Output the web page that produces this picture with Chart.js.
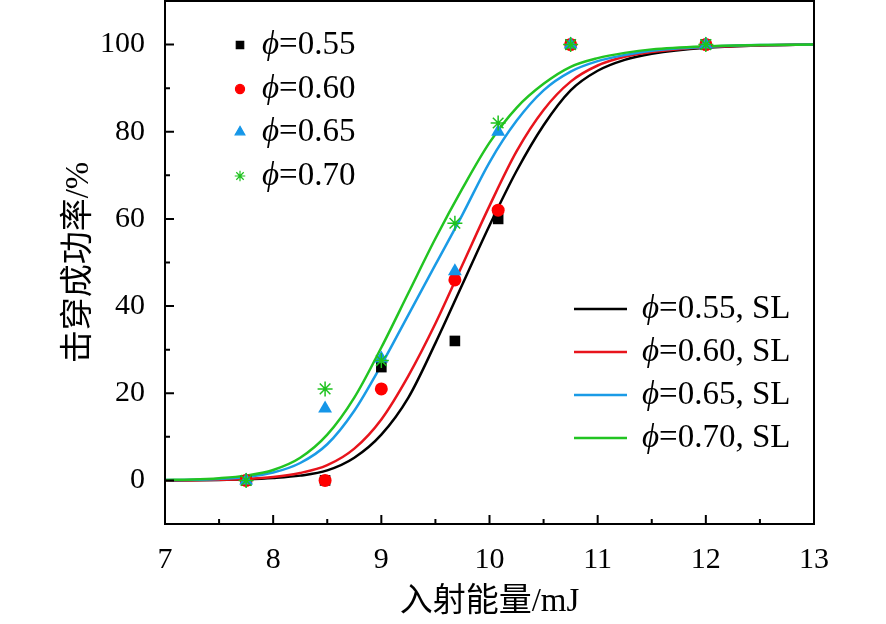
<!DOCTYPE html>
<html lang="zh">
<head>
<meta charset="utf-8">
<title>击穿成功率</title>
<script src="https://cdn.jsdelivr.net/npm/chart.js"></script>
<style>
  html, body { margin: 0; padding: 0; background: #fff; }
  #wrap { width: 886px; height: 624px; }
</style>
</head>
<body>
<div id="wrap"><canvas id="chart"></canvas></div>
<script>
// measured points
const energy = [7.75, 8.48, 9.0, 9.68, 10.08, 10.75, 12.0];
const rate055 = [0, 0, 26, 32, 60, 100, 100];
const rate060 = [0, 0, 21, 46, 62, 100, 100];
const rate065 = [0, 16.5, 28, 48, 80, 100, 100];
const rate070 = [0, 21, 27.5, 59, 82, 100, 100];

// SL curves
const fitX   = [7, 7.25, 7.5, 7.75, 8, 8.25, 8.5, 8.75, 9, 9.25, 9.5, 9.75, 10, 10.25, 10.5, 10.75, 11, 11.25, 11.5, 12, 12.5, 13];
const fit055 = [0, 0.03, 0.1, 0.25, 0.55, 1.1, 2.3, 5.2, 10.5, 19, 31.5, 45, 58.5, 71, 81.5, 89.5, 94, 96.5, 97.9, 99.3, 99.8, 100];
const fit060 = [0, 0.05, 0.15, 0.35, 0.8, 1.7, 3.5, 7.3, 14, 24, 36, 49.5, 63, 75.5, 85, 91.5, 95.2, 97.2, 98.3, 99.4, 99.8, 100];
const fit065 = [0.1, 0.15, 0.35, 0.8, 1.8, 4, 8.3, 16, 26.5, 38, 49.5, 61, 73, 82.5, 89.5, 93.8, 96.2, 97.6, 98.6, 99.5, 99.9, 100];
const fit070 = [0.1, 0.2, 0.5, 1.1, 2.4, 5.2, 10.5, 19, 30.5, 43, 55.5, 67, 77.5, 85.5, 91, 94.9, 96.9, 98.1, 98.9, 99.6, 99.9, 100];

const xTicks = [7, 8, 9, 10, 11, 12, 13];
const yTicks = [0, 20, 40, 60, 80, 100];
const xMinor = [7.5, 8.5, 9.5, 10.5, 11.5, 12.5];
const yMinor = [10, 30, 50, 70, 90];

const labels = ['0.55', '0.60', '0.65', '0.70'];
const colors = ['#000000', '#ff0000', '#1596e8', '#1ec21e'];
const lineColors = ['#000000', '#e8141c', '#1a9be6', '#22c422'];
const styles = ['rect', 'circle', 'triangle', 'star'];
const radii = [7.5, 6.5, 8, 7.5];

const serif = "'Liberation Serif', 'Times New Roman', serif";
const cjk = "'Liberation Serif', 'Noto Sans CJK SC', serif";

const pts = (xs, ys) => xs.map((x, i) => ({ x: x, y: ys[i] }));

const rates = [rate055, rate060, rate065, rate070];
const fits = [fit055, fit060, fit065, fit070];

// lower order is drawn on top: later series sit over earlier ones
const datasets = [];
fits.forEach((f, i) => {
    datasets.push({
        type: 'line',
        label: 'ϕ=' + labels[i] + ', SL',
        data: pts(fitX, f),
        borderColor: lineColors[i],
        borderWidth: 2.5,
        pointRadius: 0,
        cubicInterpolationMode: 'monotone',
        fill: false,
        order: 10 - i
    });
});
rates.forEach((r, i) => {
    datasets.push({
        type: 'scatter',
        label: 'ϕ=' + labels[i],
        data: pts(energy, r),
        pointStyle: styles[i],
        pointRadius: radii[i],
        pointBackgroundColor: colors[i],
        pointBorderColor: colors[i],
        pointBorderWidth: styles[i] === 'star' ? 1.5 : 0,
        order: 4 - i
    });
});

// frame, inward ticks and both legends
const decor = {
    id: 'decor',
    afterDraw(chart) {
        const ctx = chart.ctx;
        const a = chart.chartArea;
        const xs = chart.scales.x, ys = chart.scales.y;
        ctx.save();
        ctx.strokeStyle = '#000';
        ctx.lineWidth = 2;
        ctx.strokeRect(a.left, a.top, a.right - a.left, a.bottom - a.top);

        ctx.beginPath();
        xTicks.forEach(v => { const p = xs.getPixelForValue(v); ctx.moveTo(p, a.bottom); ctx.lineTo(p, a.bottom - 9); });
        xMinor.forEach(v => { const p = xs.getPixelForValue(v); ctx.moveTo(p, a.bottom); ctx.lineTo(p, a.bottom - 5); });
        yTicks.forEach(v => { const p = ys.getPixelForValue(v); ctx.moveTo(a.left, p); ctx.lineTo(a.left + 9, p); });
        yMinor.forEach(v => { const p = ys.getPixelForValue(v); ctx.moveTo(a.left, p); ctx.lineTo(a.left + 5, p); });
        ctx.stroke();

        const label = (txt, x, y) => {
            ctx.fillStyle = '#000';
            ctx.textBaseline = 'middle';
            ctx.textAlign = 'left';
            ctx.font = 'italic 33px ' + serif;
            ctx.fillText('ϕ', x, y);
            const w = ctx.measureText('ϕ').width;
            ctx.font = '33px ' + serif;
            ctx.fillText(txt, x + w, y);
        };

        // scatter legend, upper left
        const rowsA = [44, 88, 131, 175];
        labels.forEach((l, i) => {
            const y = a.top + rowsA[i];
            ctx.fillStyle = colors[i];
            ctx.strokeStyle = colors[i];
            ctx.lineWidth = 1.2;
            Chart.helpers.drawPoint(ctx, { pointStyle: styles[i], radius: radii[i] * 0.7, rotation: 0, borderWidth: 1.2 }, a.left + 75, y);
            label('=' + l, a.left + 97, y);
        });

        // line legend, lower right
        const rowsB = [308, 351, 394, 437];
        labels.forEach((l, i) => {
            const y = a.top + rowsB[i];
            ctx.strokeStyle = lineColors[i];
            ctx.lineWidth = 2.5;
            ctx.beginPath();
            ctx.moveTo(a.left + 409, y);
            ctx.lineTo(a.left + 462, y);
            ctx.stroke();
            label('=' + l + ', SL', a.left + 477, y);
        });
        ctx.restore();
    }
};

new Chart(document.getElementById('chart'), {
    data: { datasets: datasets },
    options: {
        responsive: true,
        maintainAspectRatio: false,
        animation: false,
        layout: { autoPadding: false, padding: { top: 1, right: 72, left: 0, bottom: 0 } },
        plugins: { legend: { display: false }, tooltip: { enabled: false } },
        scales: {
            x: {
                type: 'linear',
                min: 7,
                max: 13,
                afterBuildTicks: s => { s.ticks = xTicks.map(v => ({ value: v })); },
                afterFit: s => { s.height = 100; s.paddingLeft = 0; s.paddingRight = 0; },
                grid: { display: false },
                border: { display: false },
                ticks: { color: '#000', font: { family: serif, size: 30 }, padding: 10, maxRotation: 0 },
                title: {
                    display: true,
                    text: '入射能量/mJ',
                    color: '#000',
                    font: { family: cjk, size: 33 },
                    padding: { top: 0, bottom: 2 }
                }
            },
            y: {
                type: 'linear',
                min: -10,
                max: 110,
                afterBuildTicks: s => { s.ticks = yTicks.map(v => ({ value: v })); },
                afterFit: s => { s.width = 165; s.paddingTop = 0; s.paddingBottom = 0; },
                grid: { display: false },
                border: { display: false },
                ticks: { color: '#000', font: { family: serif, size: 30 }, padding: 12 },
                title: {
                    display: true,
                    text: '击穿成功率/%',
                    color: '#000',
                    font: { family: cjk, size: 33 },
                    padding: { top: 60, bottom: 0 }
                }
            }
        }
    },
    plugins: [decor]
});
</script>
</body>
</html>
